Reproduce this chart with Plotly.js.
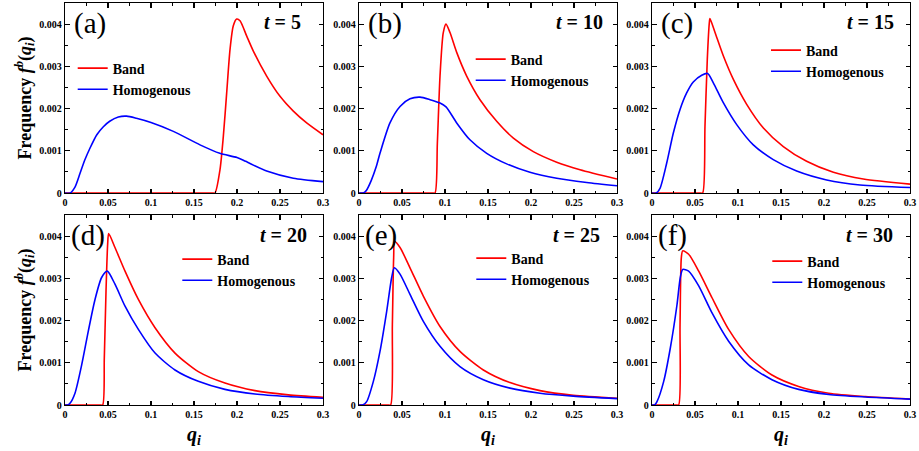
<!DOCTYPE html>
<html>
<head>
<meta charset="utf-8">
<script src="https://cdn.plot.ly/plotly-3.0.1.min.js"></script>
<style>html,body{margin:0;padding:0;background:#fff;}#chart{width:919px;height:451px;}</style>
</head>
<body>
<div id="chart"></div>
<script>
// ---- data ----
const panelLabels = ['(a)', '(b)', '(c)', '(d)', '(e)', '(f)'];
const timeLabels = ['5', '10', '15', '20', '25', '30'];
const seriesNames = ['Band', 'Homogenous'];

const qA_band = [0, 0.171, 0.1744, 0.1802, 0.1841, 0.188, 0.1919, 0.1957, 0.1996, 0.2035, 0.2112, 0.219, 0.2345, 0.25, 0.2655, 0.281, 0.3];
const fA_band = [0, 0, 0, 0.00055, 0.00134, 0.00237, 0.0034, 0.00396, 0.00412, 0.00408, 0.00372, 0.00336, 0.00277, 0.00229, 0.00194, 0.00166, 0.00138];
const qA_hom = [0, 0.006, 0.0116, 0.0174, 0.023, 0.029, 0.037, 0.0446, 0.052, 0.062, 0.0717, 0.083, 0.1, 0.126, 0.157, 0.18, 0.2, 0.21, 0.2345, 0.2655, 0.3];
const fA_hom = [0, 0, 0.00014, 0.00046, 0.00078, 0.00106, 0.00138, 0.00157, 0.0017, 0.0018, 0.00182, 0.00177, 0.00167, 0.00146, 0.00114, 0.00094, 0.00084, 0.00075, 0.00052, 0.00035, 0.00027];

const qB_band = [0, 0.085, 0.0884, 0.0911, 0.0942, 0.098, 0.1012, 0.1058, 0.1136, 0.1252, 0.1407, 0.1601, 0.1795, 0.2027, 0.2299, 0.257, 0.3];
const fB_band = [0, 0, 0, 0.00118, 0.00277, 0.0038, 0.004, 0.0038, 0.00333, 0.00277, 0.00221, 0.0017, 0.0013, 0.00098, 0.00073, 0.00055, 0.00033];
const qB_hom = [0, 0.005, 0.0085, 0.0143, 0.02, 0.0244, 0.036, 0.0477, 0.0593, 0.0709, 0.0826, 0.0942, 0.1012, 0.1136, 0.129, 0.1485, 0.1717, 0.1988, 0.2299, 0.2648, 0.3];
const fB_hom = [0, 0, 0.00006, 0.0003, 0.00062, 0.00094, 0.00166, 0.00205, 0.00223, 0.00227, 0.00221, 0.00213, 0.00204, 0.00166, 0.00126, 0.00094, 0.00069, 0.00049, 0.00035, 0.00025, 0.00017];

const qC_band = [0, 0.0555, 0.0589, 0.0616, 0.0643, 0.0667, 0.0674, 0.0733, 0.0829, 0.0946, 0.1101, 0.1295, 0.1527, 0.1798, 0.2109, 0.2457, 0.3];
const fC_band = [0, 0, 0, 0.00158, 0.00317, 0.00404, 0.00413, 0.0038, 0.00325, 0.00269, 0.0021, 0.00154, 0.0011, 0.00075, 0.00049, 0.00033, 0.00021];
const qC_hom = [0, 0.005, 0.0093, 0.0171, 0.0248, 0.0326, 0.0403, 0.048, 0.0578, 0.0647, 0.0713, 0.0829, 0.0985, 0.1178, 0.141, 0.1682, 0.2031, 0.2419, 0.3];
const fC_hom = [0, 0, 0.00011, 0.00071, 0.00142, 0.00198, 0.00237, 0.00263, 0.00279, 0.00283, 0.00261, 0.00214, 0.00162, 0.00114, 0.00079, 0.00052, 0.00031, 0.00019, 0.00013];

const qD_band = [0, 0.0405, 0.0438, 0.0457, 0.0477, 0.0496, 0.0508, 0.0581, 0.0698, 0.0853, 0.1047, 0.1279, 0.155, 0.186, 0.2209, 0.2597, 0.3];
const fD_band = [0, 0, 0, 0.00111, 0.0027, 0.00381, 0.00406, 0.00373, 0.00317, 0.0025, 0.00183, 0.00123, 0.00079, 0.00052, 0.00034, 0.00024, 0.00018];
const qD_hom = [0, 0.003, 0.0058, 0.0116, 0.0194, 0.0271, 0.0349, 0.0426, 0.0492, 0.0581, 0.0698, 0.0853, 0.1047, 0.1279, 0.155, 0.186, 0.2209, 0.2597, 0.3];
const fD_hom = [0, 0, 0.00004, 0.00028, 0.00095, 0.00175, 0.0025, 0.00302, 0.00317, 0.00286, 0.00234, 0.00179, 0.00123, 0.00083, 0.00056, 0.00037, 0.00026, 0.0002, 0.00016];

const qE_band = [0, 0.0335, 0.0368, 0.0388, 0.0403, 0.0415, 0.0477, 0.0593, 0.0748, 0.0942, 0.1174, 0.1446, 0.1756, 0.2105, 0.2492, 0.3];
const fE_band = [0, 0, 0, 0.0019, 0.00349, 0.00387, 0.00373, 0.00325, 0.00258, 0.00186, 0.00127, 0.00083, 0.00053, 0.00034, 0.00023, 0.00016];
const qE_hom = [0, 0.004, 0.0089, 0.0167, 0.0244, 0.0322, 0.038, 0.0411, 0.0477, 0.0593, 0.0748, 0.0942, 0.1174, 0.1446, 0.1756, 0.2105, 0.2492, 0.3];
const fE_hom = [0, 0, 0.00008, 0.00056, 0.00127, 0.00222, 0.00302, 0.00325, 0.0031, 0.00262, 0.00198, 0.00139, 0.00091, 0.0006, 0.0004, 0.00028, 0.00021, 0.00015];

const qF_band = [0, 0.028, 0.031, 0.0326, 0.0341, 0.0357, 0.0426, 0.0543, 0.0698, 0.0891, 0.1124, 0.1395, 0.1705, 0.2054, 0.2481, 0.3];
const fF_band = [0, 0, 0, 0.0019, 0.00349, 0.00365, 0.00357, 0.00317, 0.00254, 0.00179, 0.00115, 0.00071, 0.00044, 0.00028, 0.0002, 0.00014];
const qF_hom = [0, 0.003, 0.0058, 0.0136, 0.0213, 0.0291, 0.0329, 0.0357, 0.0426, 0.0543, 0.0698, 0.0891, 0.1124, 0.1395, 0.1705, 0.2054, 0.2481, 0.3];
const fF_hom = [0, 0, 0.00008, 0.00056, 0.00135, 0.00238, 0.00302, 0.00321, 0.00317, 0.00282, 0.00218, 0.00151, 0.00095, 0.0006, 0.00037, 0.00025, 0.00019, 0.00014];

const xTickVals = [0, 0.05, 0.1, 0.15, 0.2, 0.25, 0.3];
const xTickText = ['0', '0.05', '0.1', '0.15', '0.2', '0.25', '0.3'];
const yTickVals = [0, 0.001, 0.002, 0.003, 0.004];
const yTickText = ['0', '0.001', '0.002', '0.003', '0.004'];

// ---- styling / layout ----
const FONT = 'Liberation Serif, Times New Roman, serif';
const RED = '#FF0000', BLUE = '#0000FF';
const bandData = [[qA_band, fA_band], [qB_band, fB_band], [qC_band, fC_band], [qD_band, fD_band], [qE_band, fE_band], [qF_band, fF_band]];
const homData = [[qA_hom, fA_hom], [qB_hom, fB_hom], [qC_hom, fC_hom], [qD_hom, fD_hom], [qE_hom, fE_hom], [qF_hom, fF_hom]];

const W = 919, H = 451;
const xDomPx = [[65, 323], [359, 617], [652, 910]];
const yDomPx = [[3, 193], [215, 405]];
const legendPx = [[72.7, 69], [470.7, 60], [766, 51], [177.3, 260], [471.3, 259], [767.3, 262]];
const labelOffX = [0.029, 0.029, 0.029, 0.0136, 0.0136, 0.0136];
const timeX = [0.924, 0.953, 0.946, 0.946, 0.94, 0.942];

const traces = [];
const layout = {
  width: W, height: H,
  margin: {l: 0, r: 0, t: 0, b: 0},
  paper_bgcolor: '#fff', plot_bgcolor: '#fff',
  font: {family: FONT, color: '#000'},
  annotations: []
};

for (let i = 0; i < 6; i++) {
  const n = i + 1;
  const sfx = n === 1 ? '' : String(n);
  const col = i % 3, row = Math.floor(i / 3);
  const legName = 'legend' + sfx;
  const common = {type: 'scatter', mode: 'lines', xaxis: 'x' + sfx, yaxis: 'y' + sfx,
    legend: legName, hoverinfo: 'skip'};
  traces.push(Object.assign({}, common, {x: bandData[i][0], y: bandData[i][1], name: seriesNames[0],
    line: {color: RED, width: 1.6, shape: 'spline', smoothing: 0.7}}));
  traces.push(Object.assign({}, common, {x: homData[i][0], y: homData[i][1], name: seriesNames[1],
    line: {color: BLUE, width: 1.6, shape: 'spline', smoothing: 0.7}}));

  const axBase = {
    showline: true, linecolor: '#000', linewidth: 1.3, mirror: 'ticks',
    ticks: 'inside', ticklen: 4.5, tickwidth: 1.1, tickcolor: '#000',
    showgrid: false, zeroline: false, fixedrange: true,
    tickfont: {family: FONT, size: 10, weight: 'bold', color: '#000'}
  };
  const xa = Object.assign({}, axBase, {
    domain: [xDomPx[col][0] / W, xDomPx[col][1] / W], range: [0, 0.3],
    anchor: 'y' + sfx, tickmode: 'array', tickvals: xTickVals, ticktext: xTickText,
    minor: {tickmode: 'linear', tick0: 0, dtick: 0.025, ticks: 'inside', ticklen: 2.5, tickwidth: 1, tickcolor: '#000'}
  });
  const ya = Object.assign({}, axBase, {
    domain: [1 - yDomPx[row][1] / H, 1 - yDomPx[row][0] / H], range: [0, 0.0045],
    anchor: 'x' + sfx, tickmode: 'array', tickvals: yTickVals, ticktext: yTickText,
    minor: {tickmode: 'linear', tick0: 0, dtick: 0.0005, ticks: 'inside', ticklen: 2.5, tickwidth: 1, tickcolor: '#000'}
  });
  if (col === 0) {
    ya.title = {text: 'Frequency <i>f</i><sup><i>b</i></sup>(<i>q<sub>i</sub></i>)',
      font: {family: FONT, size: 18, weight: 'bold', color: '#000'}, standoff: 3};
  }
  if (row === 1) {
    xa.title = {text: '<i>q<sub>i</sub></i>', font: {family: FONT, size: 20, weight: 'bold', color: '#000'}, standoff: 7};
  }
  layout['xaxis' + sfx] = xa;
  layout['yaxis' + sfx] = ya;

  layout[legName] = {
    x: legendPx[i][0] / W, y: 1 - (legendPx[i][1] - 16.5) / H, xanchor: 'left', yanchor: 'top',
    bgcolor: 'rgba(0,0,0,0)', borderwidth: 0,
    font: {family: FONT, size: 14, weight: 'bold', color: '#000'},
    tracegroupgap: 0
  };

  layout.annotations.push({
    xref: 'x' + sfx + ' domain', yref: 'y' + sfx + ' domain',
    x: labelOffX[i], y: 0.893, xanchor: 'left', yanchor: 'middle',
    text: panelLabels[i], showarrow: false,
    font: {family: FONT, size: 29, color: '#000'}
  });
  layout.annotations.push({
    xref: 'x' + sfx + ' domain', yref: 'y' + sfx + ' domain',
    x: timeX[i], y: row === 0 ? 0.898 : 0.895, xanchor: 'right', yanchor: 'middle',
    text: '<i>t</i> = ' + timeLabels[i], showarrow: false,
    font: {family: FONT, size: 20, weight: 'bold', color: '#000'}
  });
}

Plotly.newPlot('chart', traces, layout, {displayModeBar: false, staticPlot: true});
</script>
</body>
</html>
